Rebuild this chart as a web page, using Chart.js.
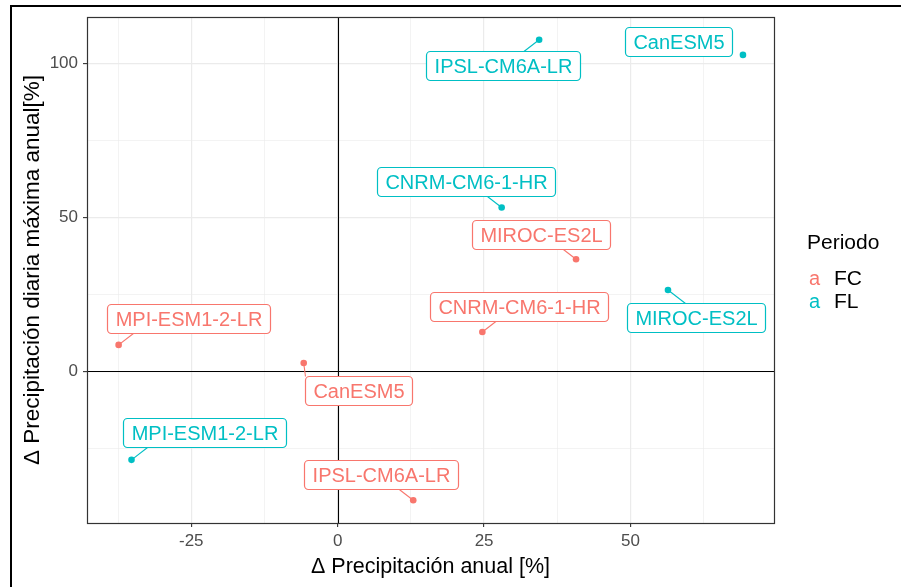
<!DOCTYPE html>
<html>
<head>
<meta charset="utf-8">
<script src="https://cdn.jsdelivr.net/npm/chart.js@4"></script>
<style>
  html, body { margin: 0; padding: 0; background: #fff; overflow: hidden; }
  #wrap { position: relative; width: 901px; height: 587px; }
  #marco { position: absolute; left: 10px; top: 5px; width: 1000px; height: 1000px;
           border: 2px solid #000; pointer-events: none; }
</style>
</head>
<body>
<div id="wrap">
  <canvas id="scatter" width="901" height="587"></canvas>
  <div id="marco"></div>
</div>
<script>
// modelos (mismo orden en cada periodo)
const modelos = ['CanESM5', 'CNRM-CM6-1-HR', 'IPSL-CM6A-LR', 'MIROC-ES2L', 'MPI-ESM1-2-LR'];
const periodos = ['FC', 'FL'];

// Δ precipitación anual [%] (eje x) y Δ precipitación diaria máxima anual [%] (eje y)
const fcPrecAnual = [-5.8, 24.7, 12.9, 40.7, -37.4];
const fcPrecMax   = [2.7, 12.8, -41.8, 36.4, 8.6];
const flPrecAnual = [69.2, 28.0, 34.4, 56.4, -35.2];
const flPrecMax   = [102.7, 53.2, 107.6, 26.4, -28.7];

// rejilla (mayor + menor)
const xGrid = [-37.5, -25, -12.5, 0, 12.5, 25, 37.5, 50, 62.5];
const yGrid = [-25, 0, 25, 50, 75, 100];

const colores = ['#F8766D', '#00BFC4'];
const FUENTE = '"Liberation Sans", Arial, sans-serif';

// desplazamiento de cada etiqueta respecto a su punto (px), como en ggrepel
const fcOffsets = [[55, 27], [37, -25], [-32, -26], [-35, -25], [70, -26]];
const flOffsets = [[-64, -13], [-36, -26], [-36, 26], [28, 27], [73, -27]];

function puntos(xs, ys) {
	return xs.map((x, i) => ({ x: x, y: ys[i] }));
}

function clamp(v, a, b) {
	return Math.max(a, Math.min(b, v));
}

// panel: líneas en cero + borde
const panelPlugin = {
	id: 'panel',
	beforeDatasetsDraw(chart) {
		const { ctx, chartArea: a, scales } = chart;
		const x0 = Math.round(scales.x.getPixelForValue(0)) + 0.5;
		const y0 = Math.round(scales.y.getPixelForValue(0)) + 0.5;
		ctx.save();
		ctx.strokeStyle = '#000';
		ctx.lineWidth = 1.1;
		ctx.beginPath();
		ctx.moveTo(x0, a.top); ctx.lineTo(x0, a.bottom);
		ctx.moveTo(a.left, y0); ctx.lineTo(a.right, y0);
		ctx.stroke();
		ctx.restore();
	},
	afterDatasetsDraw(chart) {
		const { ctx, chartArea: a } = chart;
		ctx.save();
		ctx.strokeStyle = '#333';
		ctx.lineWidth = 1.2;
		ctx.strokeRect(a.left + 0.5, a.top + 0.5, a.right - a.left, a.bottom - a.top);
		ctx.restore();
	}
};

function cajaRedonda(ctx, x, y, w, h, r) {
	ctx.beginPath();
	ctx.moveTo(x + r, y);
	ctx.lineTo(x + w - r, y);
	ctx.arcTo(x + w, y, x + w, y + r, r);
	ctx.lineTo(x + w, y + h - r);
	ctx.arcTo(x + w, y + h, x + w - r, y + h, r);
	ctx.lineTo(x + r, y + h);
	ctx.arcTo(x, y + h, x, y + h - r, r);
	ctx.lineTo(x, y + r);
	ctx.arcTo(x, y, x + r, y, r);
	ctx.closePath();
}

// etiquetas con caja (tipo geom_label_repel)
const etiquetasPlugin = {
	id: 'etiquetas',
	afterDatasetsDraw(chart, args, opts) {
		const ctx = chart.ctx;
		ctx.save();
		ctx.font = '20px ' + FUENTE;
		chart.data.datasets.forEach((ds, i) => {
			const meta = chart.getDatasetMeta(i);
			const color = colores[i];
			meta.data.forEach((el, j) => {
				const [dx, dy] = opts.offsets[i][j];
				const px = el.x, py = el.y;
				const cx = px + dx, cy = py + dy;
				const texto = modelos[j];
				const w = Math.round(ctx.measureText(texto).width + 16);
				const h = 29;
				const L = Math.round(cx - w / 2) + 0.5, T = Math.round(cy - h / 2) + 0.5;
				const R = L + w, B = T + h;
				// segmento: punto más cercano de la caja, inclinado hacia el centro
				let ex = clamp(px, L, R), ey = clamp(py, T, B);
				if (px > L && px < R) {
					ex = clamp(px + Math.sign(dx) * 1.3 * Math.abs(ey - py), L, R);
				}
				if (Math.hypot(ex - px, ey - py) > 12) {
					ctx.strokeStyle = color;
					ctx.lineWidth = 1.1;
					ctx.beginPath();
					ctx.moveTo(px, py);
					ctx.lineTo(ex, ey);
					ctx.stroke();
				}
				cajaRedonda(ctx, L, T, w, h, 4);
				ctx.fillStyle = '#fff';
				ctx.fill();
				ctx.strokeStyle = color;
				ctx.lineWidth = 1.2;
				ctx.stroke();
				ctx.fillStyle = color;
				ctx.textAlign = 'center';
				ctx.textBaseline = 'middle';
				ctx.fillText(texto, L + w / 2, T + h / 2 + 1);
			});
		});
		ctx.restore();
	}
};

// leyenda a la derecha
const leyendaPlugin = {
	id: 'leyenda',
	afterDraw(chart) {
		const ctx = chart.ctx;
		ctx.save();
		ctx.textBaseline = 'alphabetic';
		ctx.textAlign = 'left';
		ctx.fillStyle = '#000';
		ctx.font = '21px ' + FUENTE;
		ctx.fillText('Periodo', 807, 249);
		periodos.forEach((p, i) => {
			const y = 285 + i * 23;
			ctx.font = '20px ' + FUENTE;
			ctx.fillStyle = colores[i];
			ctx.fillText('a', 809, y);
			ctx.font = '21px ' + FUENTE;
			ctx.fillStyle = '#000';
			ctx.fillText(p, 834, y);
		});
		ctx.restore();
	}
};

function gridOpts(esMayor) {
	return {
		color: '#EBEBEB',
		lineWidth: (c) => (c.tick && esMayor(c.tick.value)) ? 1.2 : 0.6,
		tickColor: (c) => (c.tick && esMayor(c.tick.value)) ? '#333' : 'rgba(0,0,0,0)',
		tickWidth: 1.1,
		tickLength: 4,
		drawTicks: true
	};
}

const esMayorX = (v) => Math.abs(v % 25) < 1e-9;
const esMayorY = (v) => Math.abs(v % 50) < 1e-9;

const ctx = document.getElementById('scatter');

new Chart(ctx, {
	type: 'scatter',
	data: {
		datasets: [
			{
				label: periodos[0],
				data: puntos(fcPrecAnual, fcPrecMax),
				backgroundColor: colores[0],
				borderWidth: 0,
				pointRadius: 3.3
			},
			{
				label: periodos[1],
				data: puntos(flPrecAnual, flPrecMax),
				backgroundColor: colores[1],
				borderWidth: 0,
				pointRadius: 3.3
			}
		]
	},
	options: {
		responsive: false,
		animation: false,
		devicePixelRatio: 1,
		layout: { padding: { left: 0, right: 127, top: 17, bottom: 0 } },
		plugins: {
			legend: { display: false },
			tooltip: { enabled: false },
			etiquetas: { offsets: [fcOffsets, flOffsets] }
		},
		scales: {
			x: {
				type: 'linear',
				min: -42.8,
				max: 74.5,
				afterBuildTicks: (s) => { s.ticks = xGrid.map(v => ({ value: v })); },
				afterFit: (s) => { s.height = 64; },
				grid: gridOpts(esMayorX),
				border: { display: false },
				ticks: {
					autoSkip: false,
					maxRotation: 0,
					padding: 4,
					color: '#4D4D4D',
					font: { family: FUENTE, size: 17 },
					callback: (v) => esMayorX(v) ? String(v) : ''
				},
				title: {
					display: true,
					text: 'Δ Precipitación anual [%]',
					color: '#000',
					font: { family: FUENTE, size: 21.5 },
					padding: { top: 0, bottom: 6.7 }
				}
			},
			y: {
				type: 'linear',
				min: -49.2,
				max: 115,
				afterBuildTicks: (s) => { s.ticks = yGrid.map(v => ({ value: v })); },
				afterFit: (s) => { s.width = 87; },
				grid: gridOpts(esMayorY),
				border: { display: false },
				ticks: {
					autoSkip: false,
					padding: 5,
					color: '#4D4D4D',
					font: { family: FUENTE, size: 17 },
					callback: (v) => esMayorY(v) ? String(v) : ''
				},
				title: {
					display: true,
					text: 'Δ Precipitación diaria máxima anual[%]',
					color: '#000',
					font: { family: FUENTE, size: 22.5 },
					padding: { top: 19.5, bottom: 0 }
				}
			}
		}
	},
	plugins: [panelPlugin, etiquetasPlugin, leyendaPlugin]
});
</script>
</body>
</html>
